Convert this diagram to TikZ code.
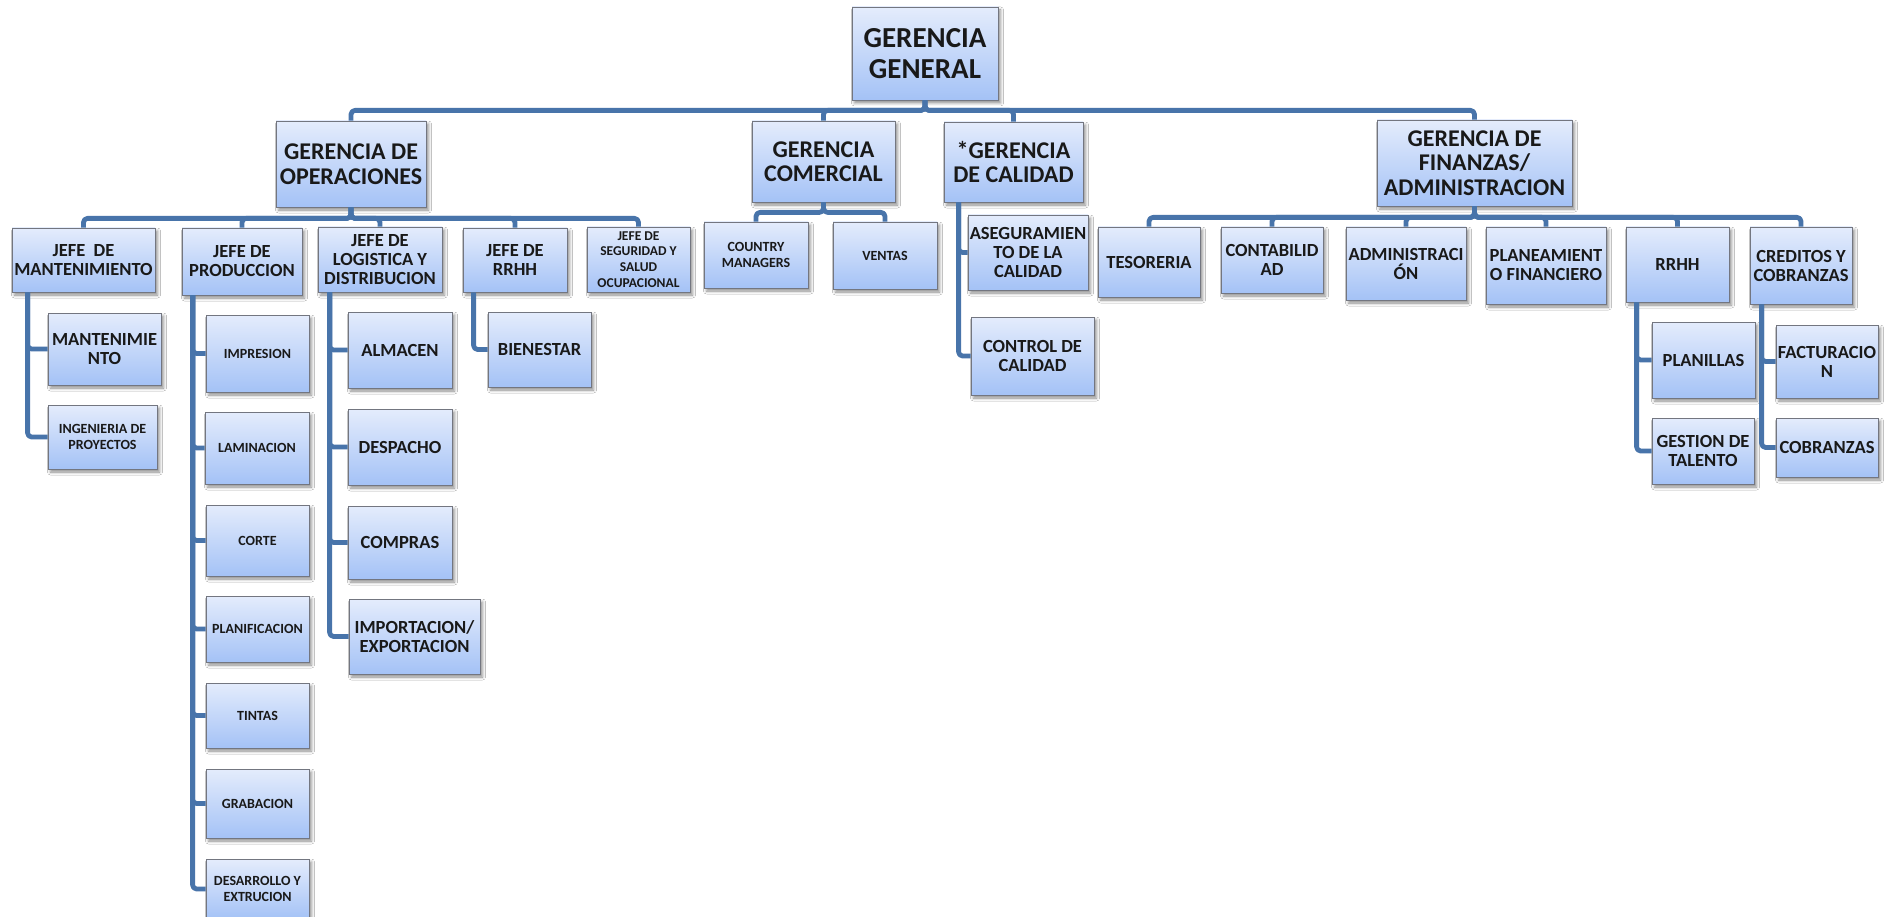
\documentclass[tikz,border=0pt]{standalone}
\usepackage{fontspec}
\setmainfont{Carlito}
\usetikzlibrary{shadows.blur}
\definecolor{connblue}{RGB}{72,116,170}
\definecolor{boxtop}{RGB}{228,236,252}
\definecolor{boxmid}{RGB}{202,218,250}
\definecolor{boxbot}{RGB}{164,194,246}
\definecolor{boxline}{RGB}{115,118,128}
\newcommand\fszA{\fontsize{29}{31}\selectfont\bfseries}
\newcommand\fszB{\fontsize{24}{24.5}\selectfont\bfseries}
\newcommand\fszC{\fontsize{18.5}{19}\selectfont\bfseries}
\newcommand\fszD{\fontsize{14}{15.3}\selectfont\bfseries}
\newcommand\fszE{\fontsize{13.5}{15.7}\selectfont\bfseries}
\newcommand\obox[7]{\node[orgbox,font=#7,minimum width={#4pt-#2pt},minimum height={#5pt-#3pt}] (#1) at ({(#2+#4)/2},{(#3+#5)/2}) {#6};}
\tikzset{
  orgbox/.style={draw=boxline,line width=0.8pt,top color=boxtop,middle color=boxmid,bottom color=boxbot,
    inner sep=0pt,align=center,text=black!90,
    blur shadow={shadow xshift=2.5pt,shadow yshift=-3pt,shadow blur radius=3pt,shadow opacity=45}},
  conn/.style={draw=connblue,line width=4.8pt,rounded corners=4pt,line join=round}
}
\begin{document}
\begin{tikzpicture}[x=1pt,y=-1pt]
\fill[white] (0,0) rectangle (1894,917);
\useasboundingbox (0,0) rectangle (1894,917);
\clip (0,0) rectangle (1894,917);
% level 1 and 2
\obox{gg}{852}{7}{998}{100}{GERENCIA\\GENERAL}{\fszA}
\obox{ops}{276}{121}{426}{207}{GERENCIA DE\\OPERACIONES}{\fszB}
\obox{com}{752}{121}{895}{202}{GERENCIA\\COMERCIAL}{\fszB}
\obox{cal}{944}{122}{1083}{202}{*GERENCIA\\DE CALIDAD}{\fszB}
\obox{fin}{1377}{120}{1572}{206}{GERENCIA DE\\FINANZAS/\\ADMINISTRACION}{\fszB}
% level 3
\obox{jmant}{12}{228}{155}{292}{JEFE\ \ DE\\MANTENIMIENTO}{\fszC}
\obox{jprod}{182}{228}{302}{295}{JEFE DE\\PRODUCCION}{\fszC}
\obox{jlog}{318}{227}{442}{292}{JEFE DE\\LOGISTICA Y\\DISTRIBUCION}{\fszC}
\obox{jrrhh}{463}{228}{567}{292}{JEFE DE\\RRHH}{\fszC}
\obox{jseg}{587}{227}{690}{292}{JEFE DE\\SEGURIDAD Y\\SALUD\\OCUPACIONAL}{\fszE}
\obox{cm}{704}{222}{808}{288}{COUNTRY\\MANAGERS}{\fszD}
\obox{ven}{833}{222}{937}{289}{VENTAS}{\fszD}
\obox{aseg}{968}{215}{1088}{290}{ASEGURAMIEN\\TO DE LA\\CALIDAD}{\fszC}
\obox{ctrl}{971}{317}{1094}{395}{CONTROL DE\\CALIDAD}{\fszC}
\obox{tes}{1098}{227}{1200}{297}{TESORERIA}{\fszC}
\obox{cont}{1221}{227}{1323}{293}{CONTABILID\\AD}{\fszC}
\obox{adm}{1346}{227}{1466}{300}{ADMINISTRACI\\ÓN}{\fszC}
\obox{plan}{1486}{227}{1606}{304}{PLANEAMIENT\\O FINANCIERO}{\fszC}
\obox{frrhh}{1626}{227}{1729}{302}{RRHH}{\fszC}
\obox{cred}{1750}{227}{1852}{304}{CREDITOS Y\\COBRANZAS}{\fszC}
% level 4
\obox{mant}{48}{313}{161}{385}{MANTENIMIE\\NTO}{\fszC}
\obox{ing}{48}{405}{157}{469}{INGENIERIA DE\\PROYECTOS}{\fszD}
\obox{imp}{206}{315}{309}{392}{IMPRESION}{\fszD}
\obox{lam}{205}{412}{309}{484}{LAMINACION}{\fszD}
\obox{cor}{206}{505}{309}{576}{CORTE}{\fszD}
\obox{pla}{206}{596}{309}{662}{PLANIFICACION}{\fszD}
\obox{tin}{206}{683}{309}{748}{TINTAS}{\fszD}
\obox{gra}{206}{769}{309}{838}{GRABACION}{\fszD}
\obox{des}{206}{859}{309}{919}{DESARROLLO Y\\EXTRUCION}{\fszD}
\obox{alm}{348}{312}{452}{388}{ALMACEN}{\fszC}
\obox{desp}{348}{409}{452}{485}{DESPACHO}{\fszC}
\obox{comp}{348}{506}{452}{579}{COMPRAS}{\fszC}
\obox{impx}{349}{599}{480}{674}{IMPORTACION/\\EXPORTACION}{\fszC}
\obox{bien}{488}{312}{591}{387}{BIENESTAR}{\fszC}
\obox{plani}{1652}{322}{1755}{398}{PLANILLAS}{\fszC}
\obox{gest}{1652}{418}{1754}{484}{GESTION DE\\TALENTO}{\fszC}
\obox{fact}{1776}{325}{1878}{398}{FACTURACIO\\N}{\fszC}
\obox{cob}{1776}{418}{1878}{477}{COBRANZAS}{\fszC}
% top bus
\foreach \c in {ops,com,cal,fin}{\draw[conn] (gg.south) -- ++(0,10) -| (\c.north);}
% operaciones bus
\foreach \c in {jmant,jprod,jlog,jrrhh,jseg}{\draw[conn] (ops.south) -- ++(0,11) -| (\c.north);}
% comercial bus
\foreach \c in {cm,ven}{\draw[conn] (com.south) -- ++(0,10) -| (\c.north);}
% finanzas bus
\foreach \c in {tes,cont,adm,plan,frrhh,cred}{\draw[conn] (fin.south) -- ++(0,11) -| (\c.north);}
% spines
\foreach \c in {mant,ing}{\draw[conn] ([xshift=16pt]jmant.south west) |- (\c.west);}
\foreach \c in {imp,lam,cor,pla,tin,gra,des}{\draw[conn] ([xshift=11pt]jprod.south west) |- (\c.west);}
\foreach \c in {alm,desp,comp,impx}{\draw[conn] ([xshift=12pt]jlog.south west) |- (\c.west);}
\draw[conn] ([xshift=11pt]jrrhh.south west) |- (bien.west);
\foreach \c in {aseg,ctrl}{\draw[conn] ([xshift=15pt]cal.south west) |- (\c.west);}
\foreach \c in {plani,gest}{\draw[conn] ([xshift=11pt]frrhh.south west) |- (\c.west);}
\foreach \c in {fact,cob}{\draw[conn] ([xshift=12pt]cred.south west) |- (\c.west);}
\end{tikzpicture}
\end{document}
